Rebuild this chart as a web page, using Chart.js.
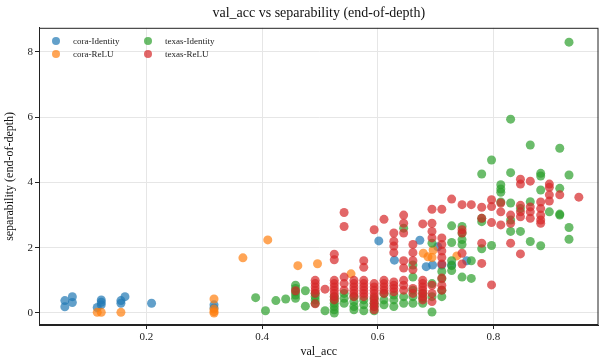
<!DOCTYPE html>
<html>
<head>
<meta charset="utf-8">
<script src="https://cdn.jsdelivr.net/npm/chart.js@4.4.1/dist/chart.umd.min.js"></script>
<style>
  html, body { margin: 0; padding: 0; background: #fff; }
  #wrap { position: relative; width: 603px; height: 362px; }
  #legend { position: absolute; left: 0; top: 0; font-family: 'Liberation Serif', serif; font-size: 9px; color: #222; }
  .dot { position: absolute; width: 8px; height: 8px; border-radius: 50%; }
  .lbl { position: absolute; white-space: nowrap; line-height: 10px; }
</style>
</head>
<body>
<div id="wrap">
  <canvas id="chart" width="603" height="362"></canvas>
  <div id="legend"></div>
</div>
<script>
const seriesNames = ['cora-Identity', 'cora-ReLU', 'texas-Identity', 'texas-ReLU'];
const seriesColors = ['rgba(31,119,180,0.7)', 'rgba(255,127,14,0.7)', 'rgba(44,160,44,0.7)', 'rgba(214,39,40,0.7)'];
const xTicks = [0.2, 0.4, 0.6, 0.8];
const yTicks = [0, 2, 4, 6, 8];

// [val_acc, separability]
const coraIdentity = [
  [0.059, 0.38], [0.059, 0.19], [0.072, 0.50], [0.072, 0.32], [0.115, 0.17],
  [0.122, 0.40], [0.122, 0.33], [0.122, 0.25], [0.156, 0.38], [0.156, 0.30],
  [0.163, 0.50], [0.209, 0.30], [0.317, 0.25], [0.317, 0.15],
  [0.602, 2.21], [0.629, 1.62], [0.673, 2.23], [0.684, 1.42], [0.704, 2.03],
  [0.695, 1.47], [0.711, 1.47], [0.728, 1.47], [0.754, 1.60]
];
const coraReLU = [
  [0.115, 0.02], [0.122, 0.02], [0.156, 0.02], [0.317, 0.43], [0.317, 0.12],
  [0.317, 0.04], [0.317, 0.00], [0.367, 1.69], [0.410, 2.24], [0.462, 1.45],
  [0.496, 1.51], [0.554, 1.20], [0.679, 1.83], [0.687, 1.72], [0.696, 1.93],
  [0.694, 1.70], [0.737, 1.75]
];
const texasIdentity = [
  [0.389, 0.47], [0.406, 0.07], [0.424, 0.38], [0.441, 0.43],
  [0.458, 0.85], [0.458, 0.75], [0.458, 0.65], [0.458, 0.55], [0.458, 0.45],
  [0.475, 0.68], [0.475, 0.21],
  [0.492, 0.60], [0.492, 0.50], [0.492, 0.40], [0.492, 0.30],
  [0.509, 0.07],
  [0.525, 0.50], [0.525, 0.40], [0.525, 0.30], [0.525, 0.20], [0.525, 0.10], [0.525, 0.00],
  [0.542, 0.60], [0.542, 0.45], [0.542, 0.30],
  [0.559, 0.50], [0.559, 0.35], [0.559, 0.20], [0.559, 0.10],
  [0.576, 0.40], [0.576, 0.25], [0.576, 0.07],
  [0.594, 0.45], [0.594, 0.30], [0.594, 0.20], [0.594, 0.07],
  [0.611, 0.60], [0.611, 0.40], [0.611, 0.25],
  [0.628, 0.55], [0.628, 0.40], [0.628, 0.20],
  [0.645, 2.60], [0.645, 0.50], [0.645, 0.30],
  [0.661, 1.47], [0.661, 1.10], [0.661, 0.70], [0.661, 0.50], [0.661, 0.30],
  [0.678, 0.60], [0.678, 0.45], [0.678, 0.30],
  [0.694, 2.14], [0.694, 0.90], [0.694, 0.50], [0.694, 0.03],
  [0.711, 1.27], [0.711, 1.05], [0.711, 0.70], [0.711, 0.50],
  [0.728, 2.67], [0.728, 2.16], [0.728, 1.60], [0.728, 1.45], [0.728, 1.30],
  [0.746, 2.65], [0.746, 2.45], [0.746, 2.25], [0.746, 2.10], [0.746, 1.10],
  [0.762, 1.60], [0.762, 1.06],
  [0.780, 4.26], [0.780, 2.90], [0.780, 2.80], [0.780, 1.97],
  [0.797, 4.69], [0.797, 2.07],
  [0.813, 3.93], [0.813, 3.80], [0.813, 3.70], [0.813, 3.40],
  [0.830, 5.94], [0.830, 4.30], [0.830, 3.37], [0.830, 2.85], [0.830, 2.50],
  [0.847, 3.20], [0.847, 2.50],
  [0.864, 5.15], [0.864, 3.41], [0.864, 2.19],
  [0.882, 4.28], [0.882, 4.20], [0.882, 3.77], [0.882, 2.06],
  [0.897, 3.10],
  [0.915, 5.05], [0.915, 3.82], [0.915, 3.03], [0.915, 3.00],
  [0.931, 8.30], [0.931, 4.23], [0.931, 2.62], [0.931, 2.26]
];
const texasReLU = [
  [0.458, 0.68],
  [0.492, 1.00], [0.492, 0.90], [0.492, 0.80], [0.492, 0.70], [0.492, 0.60], [0.492, 0.28],
  [0.509, 0.73],
  [0.525, 1.80], [0.525, 1.63], [0.525, 1.00], [0.525, 0.90], [0.525, 0.80], [0.525, 0.70],
  [0.525, 0.60], [0.525, 0.50], [0.525, 0.40],
  [0.542, 3.08], [0.542, 2.65], [0.542, 1.10], [0.542, 0.90], [0.542, 0.70],
  [0.559, 1.00], [0.559, 0.90], [0.559, 0.80], [0.559, 0.70], [0.559, 0.60], [0.559, 0.50],
  [0.576, 1.60], [0.576, 1.40], [0.576, 1.00], [0.576, 0.90], [0.576, 0.80], [0.576, 0.70],
  [0.576, 0.60], [0.576, 0.50],
  [0.594, 2.55], [0.594, 0.90], [0.594, 0.80], [0.594, 0.70], [0.594, 0.60], [0.594, 0.50],
  [0.594, 0.40], [0.594, 0.30], [0.594, 0.20], [0.594, 0.10],
  [0.611, 2.87], [0.611, 1.00], [0.611, 0.90], [0.611, 0.80], [0.611, 0.70], [0.611, 0.60],
  [0.628, 2.45], [0.628, 2.20], [0.628, 2.05], [0.628, 1.85], [0.628, 0.95], [0.628, 0.85],
  [0.628, 0.75], [0.628, 0.65],
  [0.645, 3.00], [0.645, 2.75], [0.645, 2.45], [0.645, 1.60], [0.645, 1.38], [0.645, 1.00],
  [0.645, 0.85], [0.645, 0.70],
  [0.661, 2.10], [0.661, 1.85], [0.661, 1.60], [0.661, 1.33], [0.661, 0.75], [0.661, 0.60],
  [0.678, 2.73], [0.678, 1.00], [0.678, 0.90], [0.678, 0.80], [0.678, 0.70], [0.678, 0.60],
  [0.678, 0.50], [0.678, 0.40],
  [0.694, 3.18], [0.694, 2.75], [0.694, 2.50], [0.694, 2.30], [0.694, 0.85], [0.694, 0.60],
  [0.694, 0.35],
  [0.711, 3.18], [0.711, 2.30], [0.711, 2.10], [0.711, 1.90], [0.711, 1.70], [0.711, 1.50],
  [0.711, 1.07], [0.711, 0.85], [0.711, 0.70],
  [0.728, 3.49],
  [0.746, 3.32], [0.746, 2.55], [0.746, 2.45], [0.746, 1.83], [0.746, 1.50],
  [0.762, 3.32],
  [0.780, 3.24], [0.780, 2.90], [0.780, 2.14], [0.780, 1.52],
  [0.797, 3.47], [0.797, 3.26], [0.797, 2.77], [0.797, 0.86],
  [0.813, 3.37], [0.813, 3.10], [0.813, 2.70],
  [0.830, 3.00], [0.830, 2.75], [0.830, 2.14],
  [0.847, 4.10], [0.847, 3.95], [0.847, 3.30], [0.847, 3.10], [0.847, 2.95], [0.847, 1.81],
  [0.864, 4.04], [0.864, 3.25], [0.864, 3.10], [0.864, 2.90],
  [0.882, 3.40], [0.882, 3.20], [0.882, 3.00], [0.882, 2.85], [0.882, 2.75],
  [0.897, 3.95], [0.897, 3.85], [0.897, 3.62], [0.897, 3.43],
  [0.915, 3.62],
  [0.948, 3.55]
];

const seriesData = [coraIdentity, coraReLU, texasIdentity, texasReLU];
const FONT = "'Liberation Serif', 'Times New Roman', serif";

// matplotlib-style full box around the axes
const frame = {
  id: 'frame',
  afterDraw(chart) {
    const { ctx, chartArea: a } = chart;
    ctx.save();
    ctx.strokeStyle = '#222';
    ctx.lineWidth = 1;
    ctx.strokeRect(a.left + 0.5, a.top + 0.5, a.right - a.left - 1, a.bottom - a.top - 1);
    ctx.restore();
  }
};

new Chart(document.getElementById('chart'), {
  type: 'scatter',
  data: {
    datasets: seriesData.map((pts, i) => ({
      label: seriesNames[i],
      data: pts.map(p => ({ x: p[0], y: p[1] })),
      backgroundColor: seriesColors[i],
      borderWidth: 0,
      pointRadius: 4.5,
      pointHoverRadius: 4.5,
      order: 3 - i
    }))
  },
  options: {
    responsive: false,
    animation: false,
    devicePixelRatio: 1,
    layout: { padding: { right: 1 } },
    plugins: {
      legend: { display: false },
      tooltip: { enabled: false },
      title: {
        display: true,
        fullSize: false,
        text: 'val_acc vs separability (end-of-depth)',
        color: '#111',
        font: { family: FONT, size: 14, weight: 'normal' },
        padding: { top: 5, bottom: 6 }
      }
    },
    scales: {
      x: {
        type: 'linear',
        min: 0.0143,
        max: 0.982,
        afterBuildTicks: s => { s.ticks = xTicks.map(v => ({ value: v })); },
        afterFit: s => { s.height = 37; },
        ticks: { color: '#222', font: { family: FONT, size: 11 }, padding: 2, callback: v => v.toFixed(1) },
        grid: { color: '#e6e6e6', tickColor: '#222', tickLength: 4 },
        border: { color: '#222' },
        title: { display: true, text: 'val_acc', color: '#111', font: { family: FONT, size: 12 }, padding: { top: 0, bottom: 3 } }
      },
      y: {
        type: 'linear',
        min: -0.368,
        max: 8.74,
        afterBuildTicks: s => { s.ticks = yTicks.map(v => ({ value: v })); },
        afterFit: s => { s.width = 39; },
        ticks: { color: '#222', font: { family: FONT, size: 11 }, padding: 2, callback: v => String(v) },
        grid: { color: '#e6e6e6', tickColor: '#222', tickLength: 4 },
        border: { color: '#222' },
        title: { display: true, text: 'separability (end-of-depth)', color: '#111', font: { family: FONT, size: 12 }, padding: { top: 3, bottom: 0 } }
      }
    }
  },
  plugins: [frame]
});

// two-column legend, top-left inside the axes
const legendPos = [[56, 41], [56, 54], [148, 41], [148, 54]];
const legend = document.getElementById('legend');
seriesNames.forEach((name, i) => {
  const [cx, cy] = legendPos[i];
  legend.innerHTML += `<div class="dot" style="left:${cx - 4}px;top:${cy - 4}px;background:${seriesColors[i]}"></div>` +
    `<div class="lbl" style="left:${cx + 17}px;top:${cy - 5}px">${name}</div>`;
});
</script>
</body>
</html>
